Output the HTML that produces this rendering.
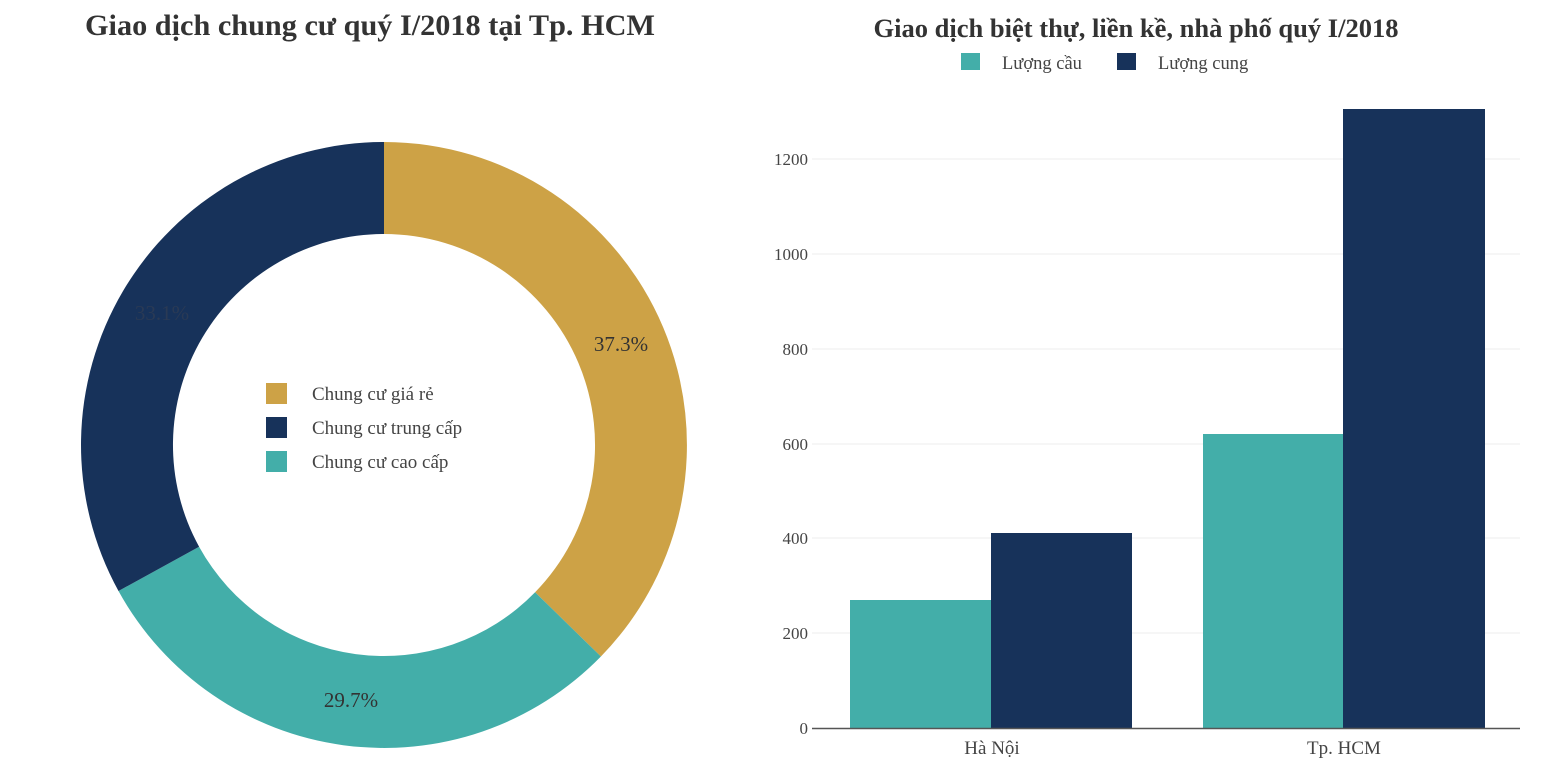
<!DOCTYPE html>
<html><head><meta charset="utf-8"><style>
html,body{margin:0;padding:0;background:#fff;}
svg text{font-family:"Liberation Serif",serif;}
</style></head><body>
<svg width="1545" height="765" viewBox="0 0 1545 765" xmlns="http://www.w3.org/2000/svg">
<rect width="1545" height="765" fill="#fff"/>
<text x="370" y="35" text-anchor="middle" font-size="30" font-weight="bold" fill="#333" textLength="570" lengthAdjust="spacingAndGlyphs">Giao dịch chung cư quý I/2018 tại Tp. HCM</text>
<path d="M384,142 A303,303 0 0 1 600.9,656.5 L535.1,592.3 A211,211 0 0 0 384,234 Z" fill="#cda246"/>
<path d="M600.9,656.5 A303,303 0 0 1 118.5,591 L199.1,546.7 A211,211 0 0 0 535.1,592.3 Z" fill="#43aea9"/>
<path d="M118.5,591 A303,303 0 0 1 384,142 L384,234 A211,211 0 0 0 199.1,546.7 Z" fill="#17325a"/>
<text x="621" y="351" text-anchor="middle" font-size="21" fill="#333">37.3%</text>
<text x="351" y="707" text-anchor="middle" font-size="21" fill="#333">29.7%</text>
<text x="162" y="320" text-anchor="middle" font-size="21" fill="#2a3a55">33.1%</text>
<rect x="266" y="383" width="21" height="21" fill="#cda246"/>
<rect x="266" y="417" width="21" height="21" fill="#17325a"/>
<rect x="266" y="451" width="21" height="21" fill="#43aea9"/>
<text x="312" y="400" font-size="19" fill="#444">Chung cư giá rẻ</text>
<text x="312" y="434" font-size="19" fill="#444">Chung cư trung cấp</text>
<text x="312" y="468" font-size="19" fill="#444">Chung cư cao cấp</text>

<text x="1136" y="37" text-anchor="middle" font-size="26" font-weight="bold" fill="#333" textLength="525" lengthAdjust="spacingAndGlyphs">Giao dịch biệt thự, liền kề, nhà phố quý I/2018</text>
<rect x="961" y="53" width="19" height="17" fill="#43aea9"/>
<text x="1002" y="69" font-size="18.5" fill="#444">Lượng cầu</text>
<rect x="1117" y="53" width="19" height="17" fill="#17325a"/>
<text x="1158" y="69" font-size="18.5" fill="#444">Lượng cung</text>
<g stroke="#eee" stroke-width="1">
<line x1="812" x2="1520" y1="159" y2="159"/><line x1="812" x2="1520" y1="254" y2="254"/>
<line x1="812" x2="1520" y1="349" y2="349"/><line x1="812" x2="1520" y1="444" y2="444"/>
<line x1="812" x2="1520" y1="538" y2="538"/><line x1="812" x2="1520" y1="633" y2="633"/>
</g>
<g font-size="17" fill="#444" text-anchor="end">
<text x="808" y="165">1200</text><text x="808" y="260">1000</text><text x="808" y="355">800</text>
<text x="808" y="450">600</text><text x="808" y="544">400</text><text x="808" y="639">200</text><text x="808" y="734">0</text>
</g>
<rect x="850" y="600" width="141" height="128" fill="#43aea9"/>
<rect x="991" y="533" width="141" height="195" fill="#17325a"/>
<rect x="1203" y="434" width="140" height="294" fill="#43aea9"/>
<rect x="1343" y="109" width="142" height="619" fill="#17325a"/>
<line x1="812" x2="1520" y1="728.5" y2="728.5" stroke="#555" stroke-width="1.5"/>
<text x="992" y="754" text-anchor="middle" font-size="19" fill="#444">Hà Nội</text>
<text x="1344" y="754" text-anchor="middle" font-size="19" fill="#444">Tp. HCM</text>
</svg>
</body></html>
